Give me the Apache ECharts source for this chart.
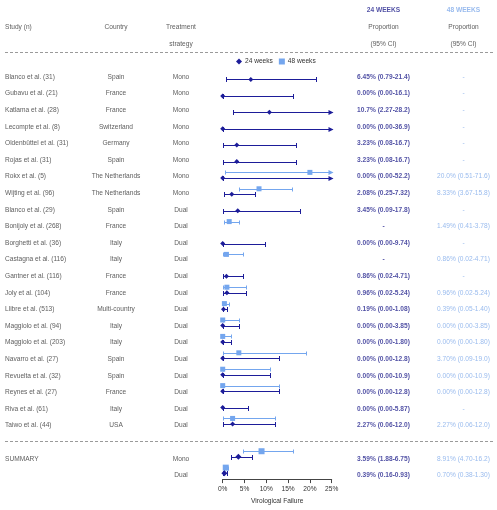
<!DOCTYPE html>
<html><head><meta charset="utf-8">
<script src="https://cdn.jsdelivr.net/npm/echarts@6/dist/echarts.min.js"></script>
<style>html,body{margin:0;padding:0;background:#fff}#c{width:497px;height:510px}</style>
</head><body><div id="c"></div>
<script>
// ---------------- DATA ----------------
const studies = ['Blanco et al. (31)','Gubavu et al. (21)','Katlama et al. (28)','Lecompte et al. (8)','Oldenbüttel et al. (31)','Rojas et al. (31)','Rokx et al. (5)','Wijting et al. (96)','Blanco et al. (29)','Bonijoly et al. (268)','Borghetti et al. (36)','Castagna et al. (116)','Gantner et al. (116)','Joly et al. (104)','Llibre et al. (513)','Maggiolo et al. (94)','Maggiolo et al. (203)','Navarro et al. (27)','Revuelta et al. (32)','Reynes et al. (27)','Riva et al. (61)','Taiwo et al. (44)'];
const countries = ['Spain','France','France','Switzerland','Germany','Spain','The Netherlands','The Netherlands','Spain','France','Italy','Italy','France','France','Multi-country','Italy','Italy','Spain','Spain','France','Italy','USA'];
const strategies = ['Mono','Mono','Mono','Mono','Mono','Mono','Mono','Mono','Dual','Dual','Dual','Dual','Dual','Dual','Dual','Dual','Dual','Dual','Dual','Dual','Dual','Dual'];
const est24 = [6.45,0,10.7,0,3.23,3.23,0,2.08,3.45,null,0,null,0.86,0.96,0.19,0,0,0,0,0,0,2.27];
const lo24  = [0.79,0,2.27,0,0.08,0.08,0,0.25,0.09,null,0,null,0.02,0.02,0.00,0,0,0,0,0,0,0.06];
const hi24  = [21.4,16.1,28.2,36.9,16.7,16.7,52.2,7.32,17.8,null,9.74,null,4.71,5.24,1.08,3.85,1.80,12.8,10.9,12.8,5.87,12.0];
const est48 = [null,null,null,null,null,null,20.0,8.33,null,1.49,null,0.86,null,0.96,0.39,0,0,3.70,0,0,null,2.27];
const lo48  = [null,null,null,null,null,null,0.51,3.67,null,0.41,null,0.02,null,0.02,0.05,0,0,0.09,0,0,null,0.06];
const hi48  = [null,null,null,null,null,null,71.6,15.8,null,3.78,null,4.71,null,5.24,1.40,3.85,1.80,19.0,10.9,12.8,null,12.0];
const sumStrategies = ['Mono','Dual'];
const sumEst24 = [3.59,0.39], sumLo24 = [1.88,0.16], sumHi24 = [6.75,0.93];
const sumEst48 = [8.91,0.70], sumLo48 = [4.70,0.38], sumHi48 = [16.2,1.30];
const xTicks = [0,5,10,15,20,25];

// ---------------- LAYOUT ----------------
const W = 497, H = 510;
const ROW0 = 77, ROWH = 16.6, AXIS_Y = 484;
const XMIN = 0, XMAX = 25;
const PLOT_L = 222.7, PLOT_W = 109;
const OFF24 = 2.6 / ROWH, OFF48 = -3 / ROWH;
const C24 = '#1d1d99', C48 = '#74a6ee';
const T24 = '#25258f', T48 = '#80aaea', TXT = '#333333';
const FS = 6.6, FONT = 'Liberation Sans, Arial, sans-serif';
const COL = {study: 5, country: 116, strat: 181, p24: 383.5, p48: 463.5};
const SUM0 = studies.length + 1; // summary first row index

const fmt = v => (v < 10 ? v.toFixed(2) : v.toFixed(1));
const ci = (e, l, h) => e == null ? '-' : fmt(e) + '% (' + fmt(l) + '-' + fmt(h) + ')';

// ---------------- TEXT ITEMS ----------------
const textLeft = [], textCenter = [], text24 = [], text48 = [], textHead24 = [], textHead48 = [];
textLeft.push({value:[COL.study, -3], t:'Study (n)'});
textCenter.push({value:[COL.country, -3], t:'Country'});
textCenter.push({value:[COL.strat, -3], t:'Treatment'});
textCenter.push({value:[COL.strat, -2], t:'strategy'});
textCenter.push({value:[COL.p24, -3], t:'Proportion'});
textCenter.push({value:[COL.p24, -2], t:'(95% CI)'});
textCenter.push({value:[COL.p48, -3], t:'Proportion'});
textCenter.push({value:[COL.p48, -2], t:'(95% CI)'});
textHead24.push({value:[COL.p24, -4], t:'24 WEEKS'});
textHead48.push({value:[COL.p48, -4], t:'48 WEEKS'});
studies.forEach((s, i) => {
  textLeft.push({value:[COL.study, i], t:s});
  textCenter.push({value:[COL.country, i], t:countries[i]});
  textCenter.push({value:[COL.strat, i], t:strategies[i]});
  text24.push({value:[COL.p24, i], t:ci(est24[i], lo24[i], hi24[i])});
  text48.push({value:[COL.p48, i], t:ci(est48[i], lo48[i], hi48[i])});
});
textLeft.push({value:[COL.study, SUM0], t:'SUMMARY'});
sumStrategies.forEach((s, k) => {
  const r = SUM0 + k;
  textCenter.push({value:[COL.strat, r], t:s});
  text24.push({value:[COL.p24, r], t:ci(sumEst24[k], sumLo24[k], sumHi24[k])});
  text48.push({value:[COL.p48, r], t:ci(sumEst48[k], sumLo48[k], sumHi48[k])});
});

function textSeries(data, align, color, weight) {
  return {
    type: 'scatter', xAxisIndex: 1, yAxisIndex: 1, silent: true, clip: false,
    symbolSize: 0, data: data, z: 5,
    label: {show: true, position: [0, 0], align: align, verticalAlign: 'middle',
      formatter: p => p.data.t, color: color, fontSize: FS, fontFamily: FONT, fontWeight: weight}
  };
}

// ---------------- CI DATA ----------------
function ciData(est, lo, hi, rowBase, off) {
  const out = [];
  est.forEach((e, i) => { if (e != null) out.push([lo[i], hi[i], rowBase + i + off]); });
  return out;
}
function ptData(est, rowBase, off) {
  const out = [];
  est.forEach((e, i) => { if (e != null) out.push([e, rowBase + i + off]); });
  return out;
}
function ciRender(color, capHalf) {
  return function (params, api) {
    const lo = api.value(0), hi = api.value(1), y = api.value(2);
    const a = api.coord([lo, y]), b = api.coord([Math.min(hi, XMAX), y]);
    const yy = Math.round(a[1]) + 0.5;
    const x0 = Math.round(a[0]) + 0.5, x1 = Math.round(b[0]) + 0.5;
    const st = {stroke: color, lineWidth: 1, fill: null};
    const ch = [
      {type: 'line', shape: {x1: x0, y1: yy, x2: x1, y2: yy}, style: st},
      {type: 'line', shape: {x1: x0, y1: yy - capHalf, x2: x0, y2: yy + capHalf}, style: st}
    ];
    if (hi > XMAX) {
      ch.push({type: 'polygon', shape: {points: [[x1 + 1, yy], [x1 - 4, yy - 2.6], [x1 - 4, yy + 2.6]]}, style: {fill: color}});
    } else {
      ch.push({type: 'line', shape: {x1: x1, y1: yy - capHalf, x2: x1, y2: yy + capHalf}, style: st});
    }
    return {type: 'group', children: ch};
  };
}
function ciSeries(data, color, cap) {
  return {type: 'custom', silent: true, renderItem: ciRender(color, cap), data: data,
    encode: {x: [0, 1], y: 2}, z: 2};
}
function ptSeries(name, data, symbol, size, color) {
  return {type: 'scatter', name: name, silent: true, symbol: symbol, symbolSize: size,
    itemStyle: {color: color, opacity: 1}, data: data, z: 3, clip: false};
}

const plotTop = ROW0 - 0.4 * ROWH;
const yMaxPlot = (AXIS_Y - ROW0) / ROWH;

const option = {
  animation: false,
  backgroundColor: '#ffffff',
  textStyle: {fontFamily: FONT},
  grid: [
    {left: PLOT_L, width: PLOT_W, top: plotTop, height: AXIS_Y - plotTop},
    {left: 0, width: W, top: 0, height: H}
  ],
  xAxis: [
    {type: 'value', gridIndex: 0, min: XMIN, max: XMAX, interval: 5, position: 'bottom',
     axisLine: {show: true, onZero: false, lineStyle: {color: '#444', width: 1}},
     axisTick: {show: true, length: 4, lineStyle: {color: '#444'}},
     splitLine: {show: false},
     axisLabel: {formatter: v => xTicks.includes(v) ? v + '%' : '', fontSize: FS, color: TXT, margin: 7},
     name: 'Virological Failure', nameLocation: 'middle', nameGap: 16,
     nameTextStyle: {fontSize: FS, color: TXT}},
    {type: 'value', gridIndex: 1, min: 0, max: W, show: false}
  ],
  yAxis: [
    {type: 'value', gridIndex: 0, min: -0.4, max: yMaxPlot, inverse: true, show: false},
    {type: 'value', gridIndex: 1, min: -ROW0 / ROWH, max: (H - ROW0) / ROWH, inverse: true, show: false}
  ],
  legend: {
    left: 236, top: 58, itemWidth: 6, itemHeight: 6, itemGap: 6, padding: 0,
    textStyle: {fontSize: FS, color: TXT, padding: [0, 0, 0, -2]},
    data: [{name: '24 weeks', icon: 'diamond'}, {name: '48 weeks', icon: 'rect'}]
  },
  graphic: [
    {type: 'line', shape: {x1: 5, y1: Math.round(ROW0 - 1.5 * ROWH) + 0.5, x2: 493, y2: Math.round(ROW0 - 1.5 * ROWH) + 0.5},
     style: {stroke: '#9a9a9a', lineWidth: 1, lineDash: [3, 2]}},
    {type: 'line', shape: {x1: 5, y1: Math.round(ROW0 + (SUM0 - 1) * ROWH) - 0.5, x2: 493, y2: Math.round(ROW0 + (SUM0 - 1) * ROWH) - 0.5},
     style: {stroke: '#9a9a9a', lineWidth: 1, lineDash: [3, 2]}}
  ],
  series: [
    ciSeries(ciData(est48, lo48, hi48, 0, OFF48), C48, 2),
    ciSeries(ciData(sumEst48, sumLo48, sumHi48, SUM0, OFF48), C48, 2),
    ptSeries('48 weeks', ptData(est48, 0, OFF48), 'rect', 5, C48),
    ptSeries('48 weeks', ptData(sumEst48, SUM0, OFF48), 'rect', 6, C48),
    ciSeries(ciData(est24, lo24, hi24, 0, OFF24), C24, 2.5),
    ciSeries(ciData(sumEst24, sumLo24, sumHi24, SUM0, OFF24), C24, 2.5),
    ptSeries('24 weeks', ptData(est24, 0, OFF24), 'diamond', 5, C24),
    ptSeries('24 weeks', ptData(sumEst24, SUM0, OFF24), 'diamond', 6, C24),
    textSeries(textLeft, 'left', TXT, 'normal'),
    textSeries(textCenter, 'center', TXT, 'normal'),
    textSeries(text24, 'center', T24, 'bold'),
    textSeries(text48, 'center', T48, 'normal'),
    textSeries(textHead24, 'center', T24, 'bold'),
    textSeries(textHead48, 'center', T48, 'bold')
  ]
};
const chart = echarts.init(document.getElementById('c'), null, {renderer: 'canvas'});
chart.setOption(option);
</script>
</body></html>
